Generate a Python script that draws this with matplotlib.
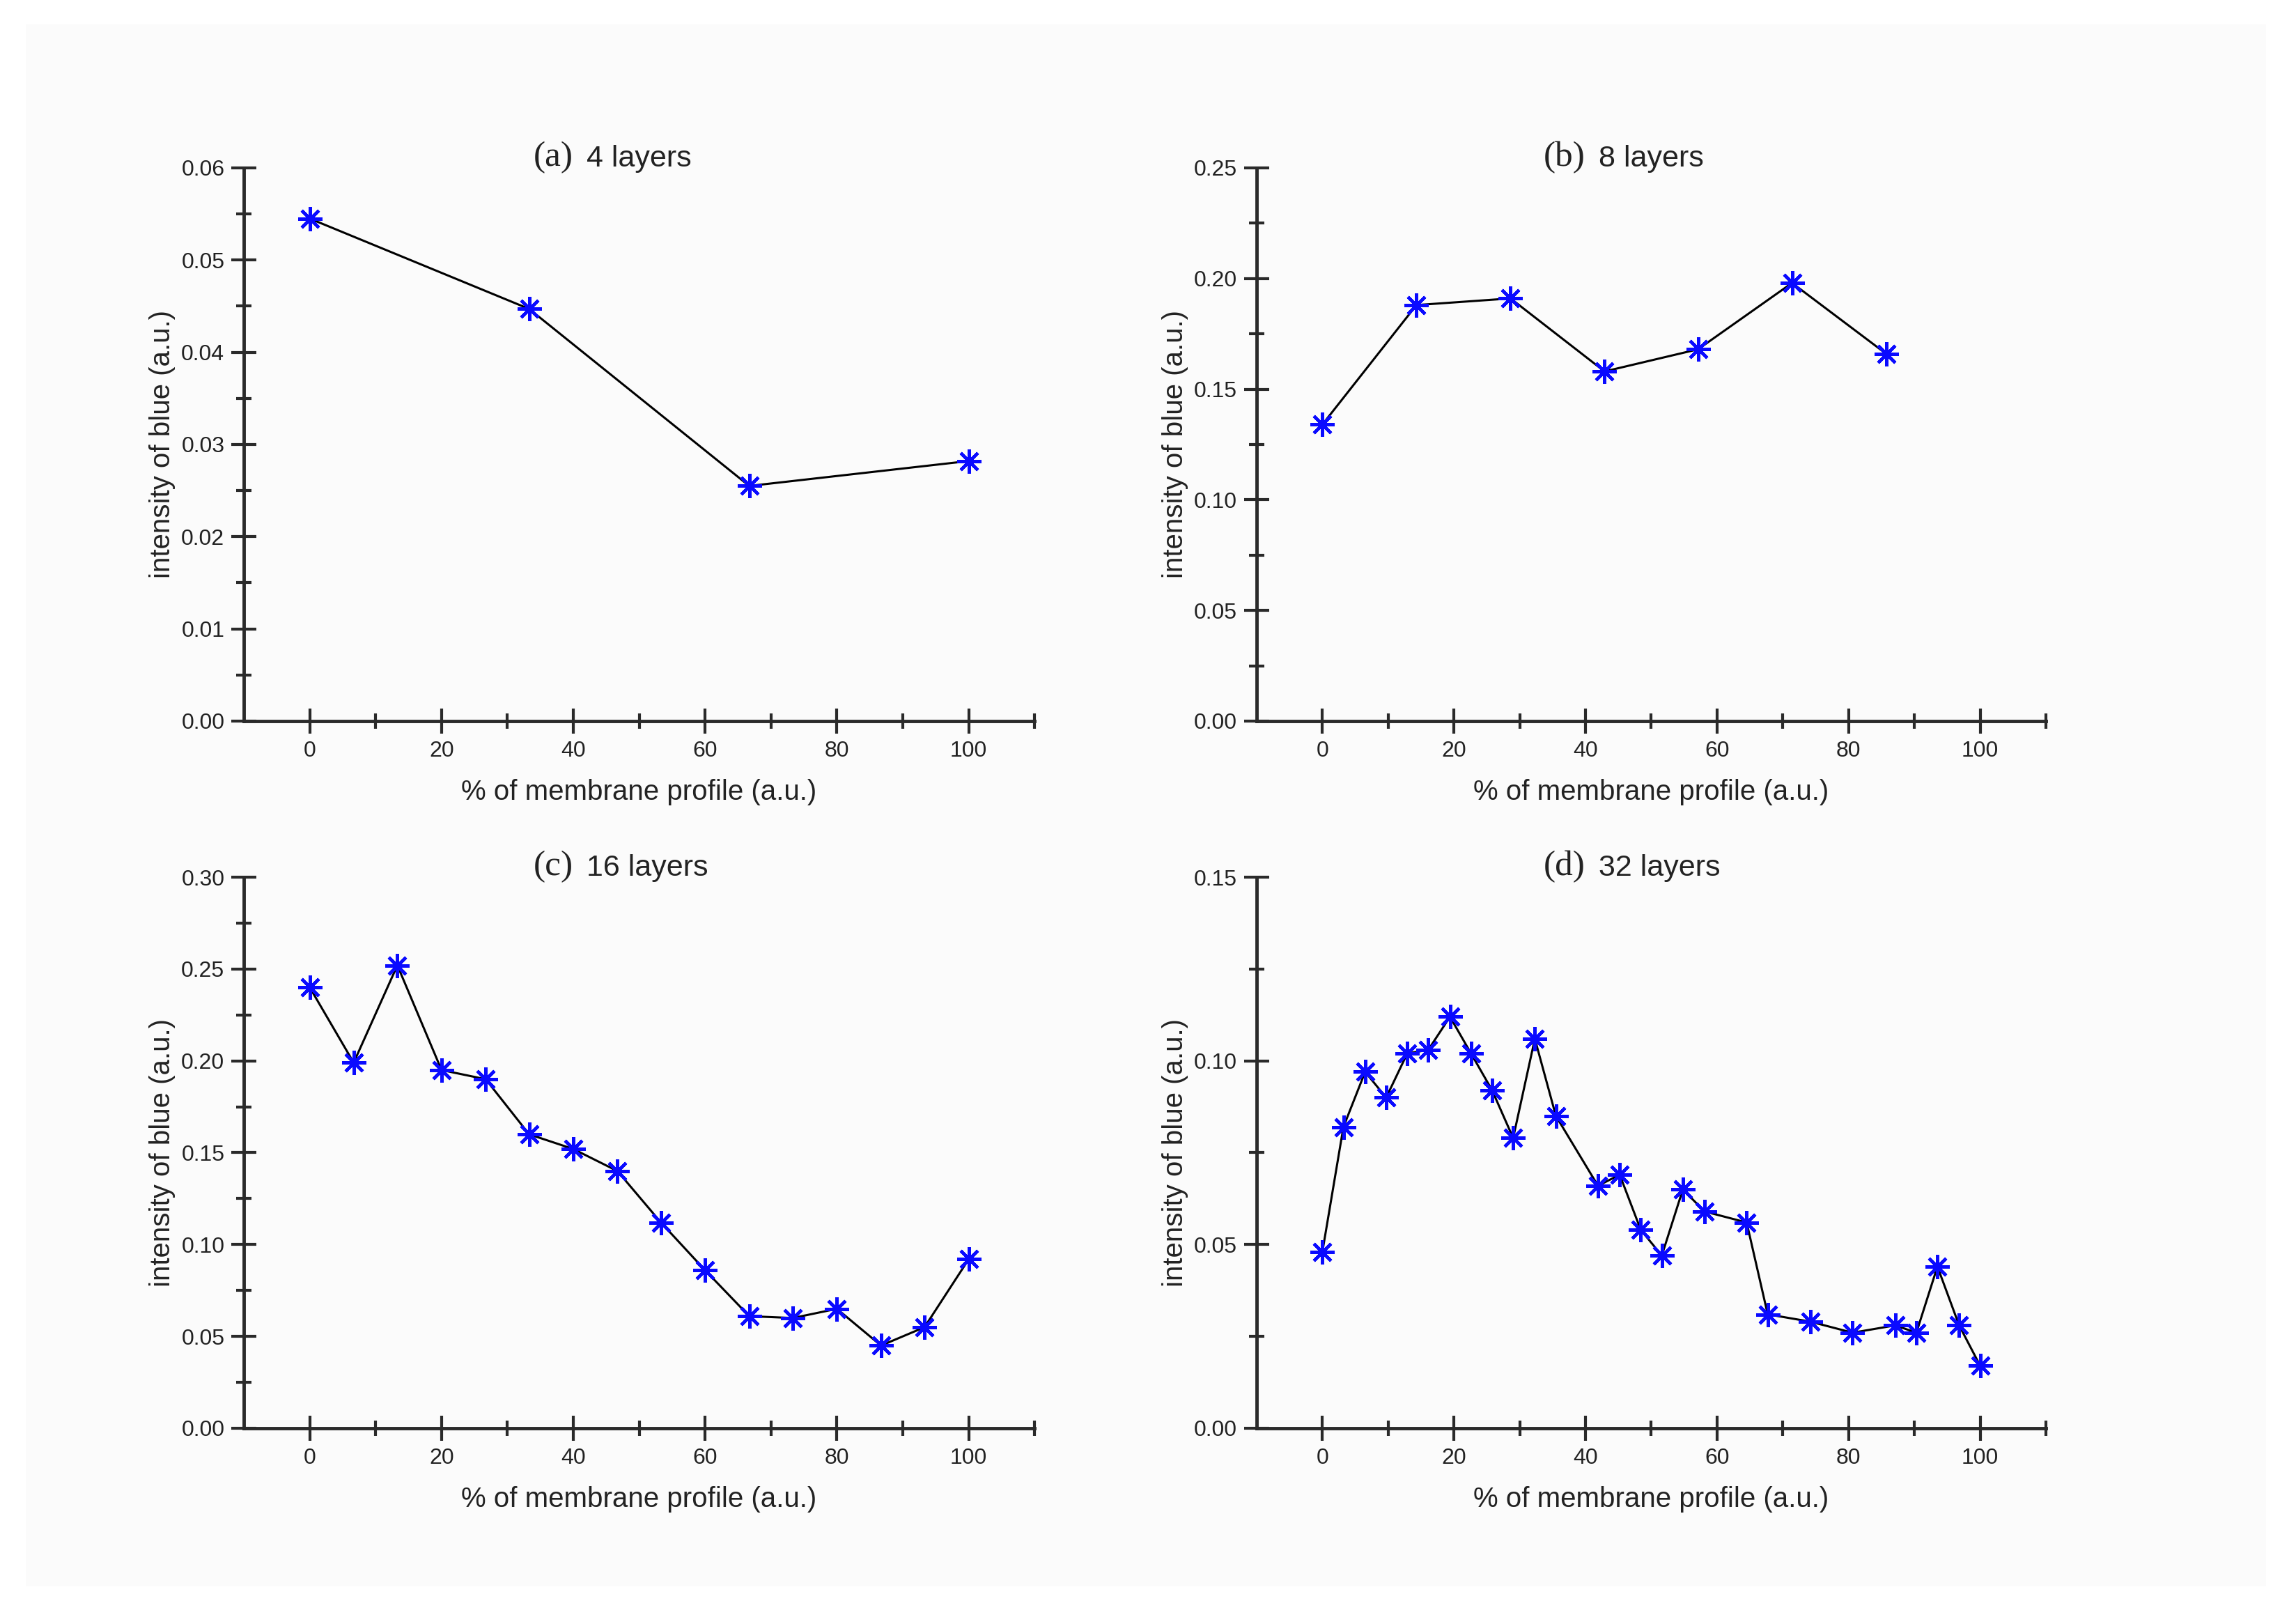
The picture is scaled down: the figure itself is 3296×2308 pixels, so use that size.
import numpy as np
import matplotlib
matplotlib.use('Agg')
import matplotlib.pyplot as plt
import matplotlib.transforms as mtransforms
from matplotlib.patches import Rectangle
from matplotlib.ticker import MultipleLocator, FixedLocator

# Datos
x_a = [0, 33.3, 66.7, 100]
y_a = [0.0545, 0.0447, 0.0255, 0.0282]

x_b = [0, 14.3, 28.6, 42.9, 57.1, 71.4, 85.7]
y_b = [0.134, 0.188, 0.191, 0.158, 0.168, 0.198, 0.166]

x_c = [0, 6.67, 13.3, 20.0, 26.7, 33.3, 40.0, 46.7, 53.3, 60.0, 66.7, 73.3, 80.0, 86.7, 93.3, 100]
y_c = [0.240, 0.199, 0.252, 0.195, 0.190, 0.160, 0.152, 0.140, 0.112, 0.086,
       0.061, 0.060, 0.065, 0.045, 0.055, 0.092]

x_d = [0, 3.2, 6.5, 9.7, 12.9, 16.1, 19.4, 22.6, 25.8, 29.0, 32.3, 35.5, 41.9, 45.2,
       48.4, 51.6, 54.8, 58.1, 64.5, 67.7, 74.2, 80.6, 87.1, 90.3, 93.5, 96.8, 100]
y_d = [0.048, 0.082, 0.097, 0.090, 0.102, 0.103, 0.112, 0.102, 0.092, 0.079, 0.106, 0.085,
       0.066, 0.069, 0.054, 0.047, 0.065, 0.059, 0.056, 0.031, 0.029, 0.026, 0.028, 0.026,
       0.044, 0.028, 0.017]

letras = ['(a)', '(b)', '(c)', '(d)']
titulos = ['4 layers', '8 layers', '16 layers', '32 layers']
y_max = [0.06, 0.25, 0.30, 0.15]
y_major = [0.01, 0.05, 0.05, 0.05]

sans = ['Liberation Sans Narrow', 'Liberation Sans', 'DejaVu Sans']
serif = ['Liberation Serif', 'DejaVu Serif']
gris = '#2a2a2a'

fig = plt.figure(figsize=(32.96, 23.08), dpi=100, facecolor='white')
fondo = Rectangle((37/3296, 1 - 2277/2308), (3253 - 37)/3296, (2277 - 35)/2308,
                  transform=fig.transFigure, facecolor='#fbfbfb',
                  edgecolor='none', zorder=-10)
fig.patches.append(fondo)

posiciones = [[0.1062, 0.5516, 0.3444, 0.3440],
              [0.5473, 0.5516, 0.3438, 0.3440],
              [0.1062, 0.1118, 0.3444, 0.3427],
              [0.5473, 0.1118, 0.3438, 0.3427]]
datos = [(x_a, y_a), (x_b, y_b), (x_c, y_c), (x_d, y_d)]

for i in range(4):
    ax = fig.add_axes(posiciones[i])
    ax.set_facecolor('none')
    xs, ys = datos[i]
    ax.plot(xs, ys, color='black', lw=2.2, zorder=2)
    ax.plot(xs, ys, ls='none', marker=(8, 2, 0), ms=25, mew=3.2, color='#0a0aff', zorder=3)

    ax.set_xlim(-10, 110)
    ax.set_ylim(0, y_max[i])
    ax.xaxis.set_major_locator(FixedLocator([0, 20, 40, 60, 80, 100]))
    ax.xaxis.set_minor_locator(FixedLocator([10, 30, 50, 70, 90, 110]))
    ax.yaxis.set_major_locator(MultipleLocator(y_major[i]))
    ax.yaxis.set_minor_locator(MultipleLocator(y_major[i] / 2))
    ax.yaxis.set_major_formatter(matplotlib.ticker.FormatStrFormatter('%.2f'))

    for s in ['top', 'right']:
        ax.spines[s].set_visible(False)
    for s in ['left', 'bottom']:
        ax.spines[s].set_color(gris)
        ax.spines[s].set_linewidth(3.5)

    ax.tick_params(which='major', direction='inout', length=26, width=3, color=gris,
                   labelsize=23, labelcolor='#222222', pad=7)
    ax.tick_params(which='minor', direction='inout', length=16, width=3, color=gris)
    for lab in ax.get_xticklabels() + ax.get_yticklabels():
        lab.set_family(sans)

    ax.set_xlabel('% of membrane profile (a.u.)', fontsize=29, family=sans,
                  color='#222222', labelpad=18)
    ax.set_ylabel('intensity of blue (a.u.)', fontsize=29, family=sans,
                  color='#222222', labelpad=6)

    trans = mtransforms.blended_transform_factory(ax.transData, ax.transAxes)
    ax.text(40, 1.003, letras[i], transform=trans, ha='right', va='baseline',
            fontsize=37, family=serif, color='#222222')
    ax.text(42, 1.003, titulos[i], transform=trans, ha='left', va='baseline',
            fontsize=31, family=sans, color='#222222')

plt.savefig('out.png', dpi=100, facecolor='white')
